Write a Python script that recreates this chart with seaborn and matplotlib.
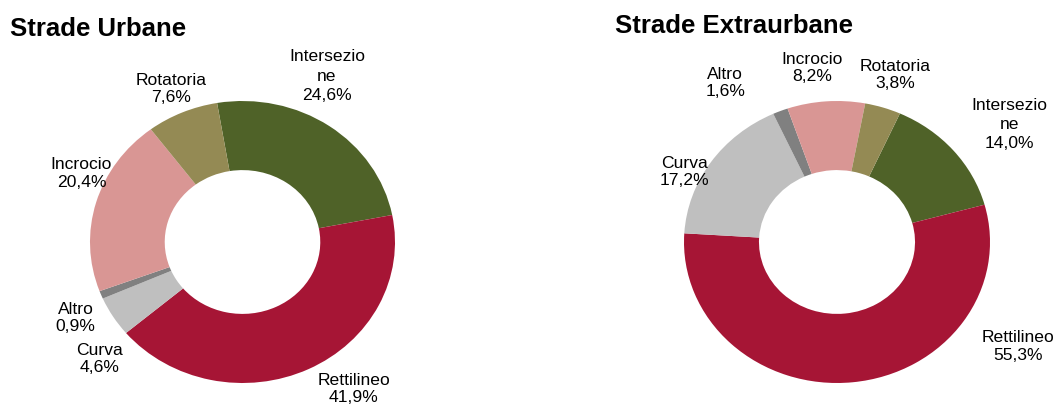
import matplotlib
matplotlib.use("Agg")
import matplotlib.pyplot as plt
import seaborn as sns

# data
categories = ["Intersezio\nne", "Rettilineo", "Curva", "Altro", "Incrocio", "Rotatoria"]
urbane = [24.6, 41.9, 4.6, 0.9, 20.4, 7.6]
extraurbane = [14.0, 55.3, 17.2, 1.6, 8.2, 3.8]
titles = ["Strade Urbane", "Strade Extraurbane"]

colors = ["#4F6228", "#A61535", "#BFBFBF", "#808080", "#D99694", "#948A54"]

sns.set_style("white")
plt.rcParams["font.family"] = ["Liberation Sans", "DejaVu Sans"]
plt.rcParams["text.color"] = "black"

W, H = 1057, 409
fig = plt.figure(figsize=(W / 100, H / 100), dpi=100)

# layout (pixels): donut bounding boxes, start angles, label nudges
boxes = [(90, 101, 395, 383), (684, 101, 990, 383)]
starts = [99.6, 65.7]
nudges = [
    [(-24, 21), (29, 12), (19, -24), (10, -10), (22, 19), (4, -9)],
    [(27, 3), (161, 71), (5, -30), (-41, -5), (-11, -2), (1, -1)],
]
title_pos = [(10, 36), (615, 33)]


def fmt(v):
    return f"{v:.1f}%".replace(".", ",")


for i, vals in enumerate([urbane, extraurbane]):
    x0, y0, x1, y1 = boxes[i]
    rx, ry = (x1 - x0) / 2, (y1 - y0) / 2
    ax = fig.add_axes([x0 / W, (H - y1) / H, (x1 - x0) / W, (y1 - y0) / H])
    labels = [f"{c}\n{fmt(v)}" for c, v in zip(categories, vals)]
    wedges, texts = ax.pie(vals, labels=labels, colors=colors, startangle=starts[i],
                           counterclock=False, radius=1, labeldistance=1.25,
                           wedgeprops=dict(width=0.49, linewidth=0),
                           textprops=dict(ha="center", va="center", fontsize=12.6,
                                          linespacing=1.2, color="black"))
    for t, (dx, dy) in zip(texts, nudges[i]):
        px, py = t.get_position()
        t.set_position((px + dx / rx, py + dy / ry))
    # the wrapped "Intersezio/ne" label is spaced a bit wider in the original
    texts[0].set_linespacing(1.35)
    ax.set_aspect("auto")
    ax.set_xlim(-1, 1)
    ax.set_ylim(-1, 1)
    ax.axis("off")
    tx, ty = title_pos[i]
    fig.text(tx / W, 1 - ty / H, titles[i], fontsize=18.5, fontweight="bold",
             ha="left", va="baseline", color="black")

fig.savefig("out.png", dpi=100)
